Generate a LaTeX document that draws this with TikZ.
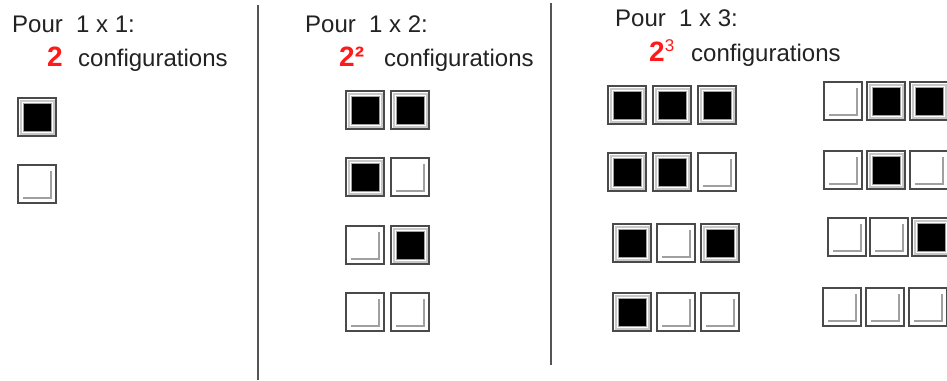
\documentclass[tikz,border=0pt]{standalone}
\usepackage{fontspec}
\setmainfont{Liberation Sans}
\usepackage{xcolor}
\definecolor{cText}{HTML}{222222}
\definecolor{cRed}{HTML}{FF1A1A}
\definecolor{cEdge}{HTML}{4A4A4A}
\definecolor{cBevel}{HTML}{C8C8C8}
\definecolor{cShade}{HTML}{A0A0A0}
\definecolor{cRule}{HTML}{555555}
\usetikzlibrary{positioning}
\tikzset{
  cell-box/.style={draw=cEdge,line width=1.3pt,fill=white,minimum size=38pt,
    inner sep=0pt,outer sep=0pt},
  % case noire : cadre gris clair puis carre noir
  cell-on/.style={cell-box,path picture={
      \draw[cBevel,line width=2pt]
        ([xshift=2.5pt,yshift=2.5pt]path picture bounding box.south west) rectangle
        ([xshift=-2.5pt,yshift=-2.5pt]path picture bounding box.north east);
      \fill[black,draw=cShade,line width=0.6pt]
        ([xshift=5pt,yshift=5pt]path picture bounding box.south west) rectangle
        ([xshift=-5pt,yshift=-5pt]path picture bounding box.north east);}},
  % case blanche : ombre en L a droite et en bas
  cell-off/.style={cell-box,path picture={
      \draw[cShade,line width=1.6pt]
        ([xshift=-5pt,yshift=-6pt]path picture bounding box.north east) |-
        ([xshift=5pt,yshift=5pt]path picture bounding box.south west);}},
  head/.style={anchor=base west,inner sep=0pt,text=cText,
    font=\fontsize{24}{26}\selectfont},
  count/.style={anchor=base west,inner sep=0pt,text=cRed,
    font=\fontsize{28}{30}\selectfont\bfseries},
  rule/.style={draw=cRule,line width=1.6pt},
}

\begin{document}
\begin{tikzpicture}[x=1pt,y=-1pt]
  \clip (0,0) rectangle (947,380);
  \fill[white] (0,0) rectangle (947,380);

  % separateurs
  \coordinate (s1t) at (258,5);
  \coordinate (s1b) at (258,380);
  \coordinate (s2t) at (551,3);
  \coordinate (s2b) at (551,365);
  \draw[rule] (s1t) -- (s1b);
  \draw[rule] (s2t) -- (s2b);

  % 1 x 1
  \node[head] (t1) at (12,32) {Pour\ \ 1 x 1:};
  \node[count] (n1) at (47,66) {2};
  \node[head] (c1) at (78,66) {configurations};
  \node[cell-on] (a1) at (37,117) {};
  \node[cell-off] (a2) at (37,184) {};

  % 1 x 2
  \node[head] (t2) at (305,32) {Pour\ \ 1 x 2:};
  \node[count] (n2) at (339,66) {2²};
  \node[head] (c2) at (384,66) {configurations};
  \node[cell-on] (b1x) at (365,110) {};
  \node[cell-on,right=7pt of b1x] (b1y) {};
  \node[cell-on] (b2x) at (365,177) {};
  \node[cell-off,right=7pt of b2x] (b2y) {};
  \node[cell-off] (b3x) at (365,245) {};
  \node[cell-on,right=7pt of b3x] (b3y) {};
  \node[cell-off] (b4x) at (365,312) {};
  \node[cell-off,right=7pt of b4x] (b4y) {};

  % 1 x 3
  \node[head] (t3) at (615,27) {Pour\ \ 1 x 3:};
  \node[count] (n3) at (649,61) {2\raisebox{10pt}{\fontsize{17}{17}\selectfont\mdseries 3}};
  \node[head] (c3) at (691,61) {configurations};

  \node[cell-on] (d1x) at (627,105) {};
  \node[cell-on,right=7pt of d1x] (d1y) {};
  \node[cell-on,right=7pt of d1y] (d1z) {};
  \node[cell-on] (d2x) at (627,172) {};
  \node[cell-on,right=7pt of d2x] (d2y) {};
  \node[cell-off,right=7pt of d2y] (d2z) {};
  \node[cell-on] (d3x) at (632,243) {};
  \node[cell-off,right=6pt of d3x] (d3y) {};
  \node[cell-on,right=6pt of d3y] (d3z) {};
  \node[cell-on] (d4x) at (632,312) {};
  \node[cell-off,right=6pt of d4x] (d4y) {};
  \node[cell-off,right=6pt of d4y] (d4z) {};

  \node[cell-off] (e1x) at (843,101) {};
  \node[cell-on,right=5pt of e1x] (e1y) {};
  \node[cell-on,right=5pt of e1y] (e1z) {};
  \node[cell-off] (e2x) at (843,170) {};
  \node[cell-on,right=5pt of e2x] (e2y) {};
  \node[cell-off,right=5pt of e2y] (e2z) {};
  \node[cell-off] (e3x) at (847,237) {};
  \node[cell-off,right=4pt of e3x] (e3y) {};
  \node[cell-on,right=4pt of e3y] (e3z) {};
  \node[cell-off] (e4x) at (842,307) {};
  \node[cell-off,right=5pt of e4x] (e4y) {};
  \node[cell-off,right=5pt of e4y] (e4z) {};
\end{tikzpicture}
\end{document}
